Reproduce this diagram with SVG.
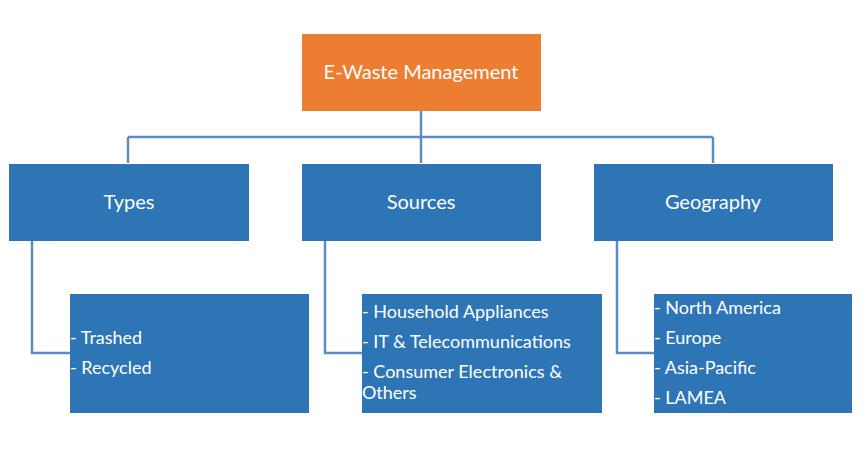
<svg xmlns="http://www.w3.org/2000/svg" width="864" height="453" viewBox="0 0 864 453">
<style>
.orange{fill:#ED7D31}
.blue{fill:#2E75B6}
.t{font-family:Lato,"Open Sans","Liberation Sans",sans-serif;fill:#FFFFFF}
.title{font-size:20px;text-anchor:middle}
.item{font-size:18px}
.conn{fill:none;stroke:#5B8CC2;stroke-width:2.5}
</style>
<rect width="864" height="453" fill="#FFFFFF"/>
<g id="connectors">
<path class="conn" d="M421,111 V163"/>
<path class="conn" d="M128,137 H713"/>
<path class="conn" d="M128,137 V163"/>
<path class="conn" d="M713,137 V163"/>
<path class="conn" d="M32,241 V353 H70"/>
<path class="conn" d="M325,241 V353 H362"/>
<path class="conn" d="M617,241 V353 H654"/>
</g>
<g id="root">
<rect class="orange" x="302" y="34" width="239" height="77"/>
<text class="t title" x="421" y="79">E-Waste Management</text>
</g>
<g id="types">
<rect class="blue" x="9" y="164" width="240" height="77"/>
<text class="t title" x="129" y="209">Types</text>
</g>
<g id="sources">
<rect class="blue" x="302" y="164" width="239" height="77"/>
<text class="t title" x="421" y="209">Sources</text>
</g>
<g id="geography">
<rect class="blue" x="594" y="164" width="239" height="77"/>
<text class="t title" x="713" y="209">Geography</text>
</g>
<g id="types-items">
<rect class="blue" x="70" y="294" width="239" height="119"/>
<text class="t item" x="70" y="344">- Trashed</text>
<text class="t item" x="70" y="374">- Recycled</text>
</g>
<g id="sources-items">
<rect class="blue" x="362" y="294" width="240" height="119"/>
<text class="t item" x="362" y="318">- Household Appliances</text>
<text class="t item" x="362" y="348">- IT &amp; Telecommunications</text>
<text class="t item" x="362" y="378">- Consumer Electronics &amp;</text>
<text class="t item" x="362" y="399">Others</text>
</g>
<g id="geography-items">
<rect class="blue" x="654" y="294" width="198" height="119"/>
<text class="t item" x="654" y="314">- North America</text>
<text class="t item" x="654" y="344">- Europe</text>
<text class="t item" x="654" y="374">- Asia-Pacific</text>
<text class="t item" x="654" y="404">- LAMEA</text>
</g>
</svg>
